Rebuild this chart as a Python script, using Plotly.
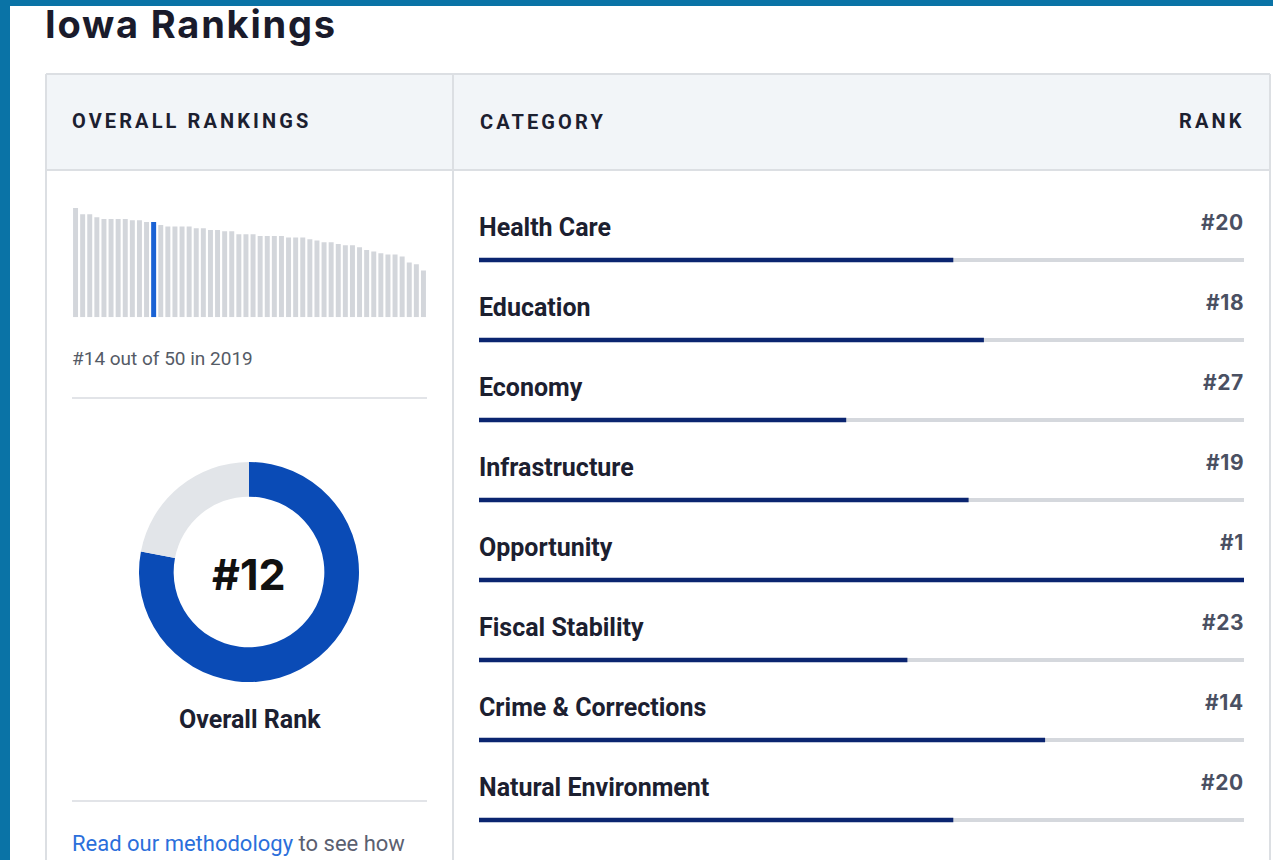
import plotly.graph_objects as go

# ---------------- data ----------------
state_scores = [109.3, 103.0, 103.0, 100.0, 98.3, 98.3, 98.3, 98.3, 97.0, 97.0,
                95.3, 95.3, 92.3, 90.7, 90.7, 90.7, 90.7, 89.0, 89.0, 87.3,
                87.3, 86.0, 86.0, 83.0, 83.0, 83.0, 81.3, 81.3, 81.3, 81.3,
                79.7, 79.7, 79.7, 78.0, 76.7, 75.0, 75.0, 73.3, 72.0, 72.0,
                70.0, 67.3, 65.7, 64.0, 62.7, 62.7, 60.7, 54.7, 53.0, 46.7]
overall_rank = 12
n_states = 50
rank_2019 = 14
year_prev = 2019

categories = ["Health Care", "Education", "Economy", "Infrastructure",
              "Opportunity", "Fiscal Stability", "Crime & Corrections",
              "Natural Environment"]
category_ranks = [20, 18, 27, 19, 1, 23, 14, 20]

# ---------------- layout helpers ----------------
W, H = 1273, 860
def px(x):
    return x / W
def py(y):
    return 1 - y / H

BODY = "Roboto, Arial, sans-serif"
HEAD = "Inter, 'Open Sans', sans-serif"
DARK = "#1c2030"
BORDER = "#dcdfe3"

fig = go.Figure()

# mini bar chart of all states
mini_colors = ["#1a62d4" if i + 1 == overall_rank else "#d3d6db" for i in range(n_states)]
fig.add_trace(go.Bar(
    x=list(range(n_states)), y=state_scores, marker=dict(color=mini_colors, line=dict(width=0)),
    xaxis="x", yaxis="y", hoverinfo="skip", showlegend=False))

# donut
fig.add_trace(go.Pie(
    values=[n_states - overall_rank + 1, overall_rank - 1],
    marker=dict(colors=["#0a4bb6", "#e2e5e9"], line=dict(width=0)),
    hole=0.685, sort=False, direction="clockwise", rotation=0,
    textinfo="none", hoverinfo="skip", showlegend=False,
    domain=dict(x=[px(139), px(359)], y=[py(682), py(462)])))

# category bars: track + fill
idx = list(range(len(categories)))
fig.add_trace(go.Bar(
    x=[n_states] * len(categories), y=idx, orientation="h", width=0.05,
    marker=dict(color="#d5d8dd", line=dict(width=0)), xaxis="x2", yaxis="y2",
    hoverinfo="skip", showlegend=False))
fig.add_trace(go.Bar(
    x=[n_states + 1 - r for r in category_ranks], y=idx, orientation="h", width=0.055,
    marker=dict(color="#0b2570", line=dict(width=0)), xaxis="x2", yaxis="y2",
    hoverinfo="skip", showlegend=False))

ann = []
def A(x, y, text, size, color=DARK, family=BODY, xanchor="left", **kw):
    d = dict(x=x, y=y, xref="paper", yref="paper", text=text, showarrow=False,
             xanchor=xanchor, yanchor="middle",
             font=dict(size=size, color=color, family=family))
    d.update(kw)
    ann.append(d)

A(px(43), py(24), '<b><span style="letter-spacing:1.8px">Iowa Rankings</span></b>', 38,
  color="#1a1b2b", family=HEAD)
A(px(70), py(121), '<b><span style="letter-spacing:3.1px">OVERALL RANKINGS</span></b>', 20)
A(px(478), py(122), '<b><span style="letter-spacing:3.1px">CATEGORY</span></b>', 20)
A(px(1246), py(121), '<b><span style="letter-spacing:3.1px">RANK</span></b>', 20, xanchor="right")
A(px(70), py(359), f"#{rank_2019} out of {n_states} in {year_prev}", 19, color="#555b66")
A(px(249), py(574), f"<b>#{overall_rank}</b>", 43, color="#111111", family=HEAD, xanchor="center")
A(px(250), py(719), "<b>Overall Rank</b>", 25, xanchor="center")
A(px(70), py(843),
  '<span style="color:#2b6fdb">Read our methodology</span> to see how', 22, color="#5b6070")

for i, (c, r) in enumerate(zip(categories, category_ranks)):
    ann.append(dict(x=0, y=i, xref="x2 domain", yref="y2", text=f"<b>{c}</b>",
                    showarrow=False, xanchor="left", yanchor="middle", xshift=-2, yshift=33,
                    font=dict(size=25, color=DARK, family=BODY)))
    ann.append(dict(x=1, y=i, xref="x2 domain", yref="y2",
                    text=f'<b><span style="letter-spacing:0.6px">#{r}</span></b>',
                    showarrow=False, xanchor="right", yanchor="middle", xshift=2, yshift=38,
                    font=dict(size=21, color="#4a5062", family=HEAD)))

shapes = [
    # blue page frame
    dict(type="rect", xref="paper", yref="paper", x0=0, x1=px(10), y0=0, y1=1,
         fillcolor="#0a73a6", line=dict(width=0), layer="below"),
    dict(type="rect", xref="paper", yref="paper", x0=0, x1=1, y0=py(6), y1=1,
         fillcolor="#0a73a6", line=dict(width=0), layer="below"),
    # header background
    dict(type="rect", xref="paper", yref="paper", x0=px(46), x1=px(1270), y0=py(170), y1=py(74),
         fillcolor="#f2f5f8", line=dict(width=0), layer="below"),
    # table borders
    dict(type="line", xref="paper", yref="paper", x0=px(46), x1=px(1270), y0=py(74), y1=py(74),
         line=dict(color=BORDER, width=2)),
    dict(type="line", xref="paper", yref="paper", x0=px(46), x1=px(1270), y0=py(170), y1=py(170),
         line=dict(color=BORDER, width=2)),
    dict(type="line", xref="paper", yref="paper", x0=px(46), x1=px(46), y0=py(74), y1=0,
         line=dict(color=BORDER, width=2)),
    dict(type="line", xref="paper", yref="paper", x0=px(453), x1=px(453), y0=py(74), y1=0,
         line=dict(color=BORDER, width=2)),
    dict(type="line", xref="paper", yref="paper", x0=px(1270), x1=px(1270), y0=py(74), y1=0,
         line=dict(color=BORDER, width=2)),
    # separators in left column
    dict(type="line", xref="paper", yref="paper", x0=px(72), x1=px(427), y0=py(398), y1=py(398),
         line=dict(color="#d8dbe0", width=1.5)),
    dict(type="line", xref="paper", yref="paper", x0=px(72), x1=px(427), y0=py(801), y1=py(801),
         line=dict(color="#d8dbe0", width=1.5)),
]

ax_off = dict(visible=False, showgrid=False, zeroline=False, fixedrange=True)
fig.update_layout(
    width=W, height=H, autosize=False,
    margin=dict(l=0, r=0, t=0, b=0, pad=0),
    paper_bgcolor="white", plot_bgcolor="rgba(0,0,0,0)",
    barmode="overlay", bargap=0.3,
    xaxis=dict(domain=[px(72), px(427)], range=[-0.5, n_states - 0.5], anchor="y", **ax_off),
    yaxis=dict(domain=[py(317.3), py(208)], range=[0, max(state_scores)], anchor="x", **ax_off),
    xaxis2=dict(domain=[px(479), px(1244)], range=[0, n_states], anchor="y2", **ax_off),
    yaxis2=dict(domain=[py(840), py(240)], range=[len(categories) - 0.75, -0.25], anchor="x2", **ax_off),
    annotations=ann, shapes=shapes, showlegend=False,
)

fig.write_html("out.html")
